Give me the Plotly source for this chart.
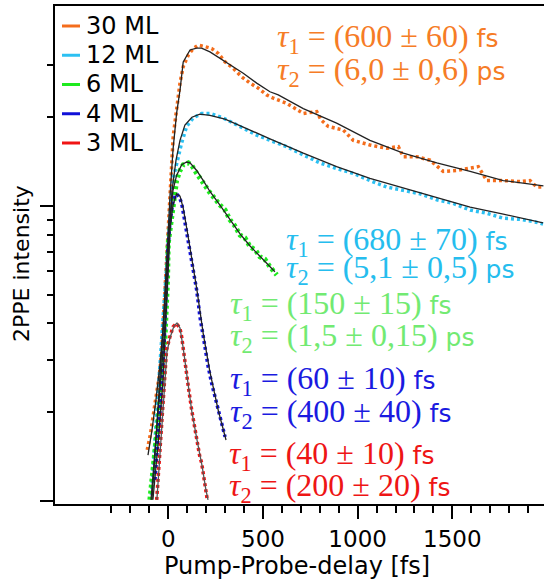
import plotly.graph_objects as go

# ---------------- data (delay in fs, 2PPE intensity, arbitrary log units) ----------------
series_names = ["30 ML", "12 ML", "6 ML", "4 ML", "3 ML"]

orange_t = [-111, -93, -70, -48, -35, -26, -17, -10, -4, 9, 18, 26, 44, 62, 79, 106, 132, 159, 194, 229,
            264, 300, 343, 388, 432, 475, 520, 555, 625, 669, 713, 784, 806, 845, 924, 977, 1023, 1065,
            1153, 1215, 1241, 1312, 1382, 1452, 1523, 1594, 1637, 1682, 1769, 1858, 1910, 1946, 1981]
orange_i = [0.149, 0.170, 0.214, 0.264, 0.317, 0.411, 0.519, 0.656, 0.797, 1.16, 1.40, 1.72, 2.12, 2.61,
            2.97, 3.25, 3.42, 3.51, 3.47, 3.42, 3.29, 3.08, 2.93, 2.74, 2.61, 2.51, 2.38, 2.32, 2.23, 2.15,
            2.06, 2.09, 1.96, 1.86, 1.81, 1.67, 1.64, 1.61, 1.57, 1.59, 1.47, 1.47, 1.43, 1.31, 1.32, 1.34,
            1.36, 1.22, 1.22, 1.21, 1.22, 1.16, 1.16]
orange_fit_t = [-107, -86, -65, -44, -28, -12, -2, 9, 25, 44, 62, 79, 115, 150, 176, 220, 273, 326, 396,
                467, 537, 581, 713, 889, 1065, 1241, 1418, 1594, 1769, 1981]
orange_fit_i = [0.143, 0.174, 0.220, 0.289, 0.380, 0.561, 0.767, 1.075, 1.55, 2.06, 2.47, 3.08, 3.38, 3.43,
                3.43, 3.33, 3.17, 3.01, 2.82, 2.61, 2.44, 2.38, 2.14, 1.91, 1.67, 1.51, 1.40, 1.31, 1.22, 1.17]

cyan_t = [-89, -81, -70, -60, -49, -39, -28, -17, -7, 4, 18, 30, 44, 71, 97, 132, 176, 220, 289, 379,
          467, 537, 625, 713, 801, 889, 977, 1065, 1153, 1241, 1330, 1418, 1505, 1594, 1682, 1769, 1858,
          1937, 1979]
cyan_i = [0.105, 0.127, 0.161, 0.203, 0.257, 0.325, 0.411, 0.519, 0.656, 0.830, 1.107, 1.27, 1.40, 1.64,
          1.86, 1.99, 2.06, 2.06, 1.99, 1.86, 1.74, 1.67, 1.59, 1.49, 1.40, 1.34, 1.29, 1.22, 1.16, 1.13,
          1.10, 1.05, 1.02, 0.969, 0.945, 0.909, 0.901, 0.883, 0.869]
cyan_fit_t = [-86, -65, -44, -23, -2, 20, 41, 62, 88, 125, 167, 220, 300, 379, 537, 713, 889, 1065, 1241,
              1418, 1594, 1769, 1858, 1979]
cyan_fit_i = [0.101, 0.161, 0.257, 0.444, 0.709, 1.13, 1.43, 1.67, 1.88, 2.00, 2.05, 2.03, 1.97, 1.87,
              1.69, 1.51, 1.36, 1.24, 1.15, 1.07, 0.992, 0.939, 0.911, 0.876]

green_t = [-97, -88, -79, -61, -53, -35, -26, -17, -9, -4, 0, 9, 18, 35, 44, 62, 79, 106, 125, 150, 183,
           220, 273, 300, 326, 350, 379, 405, 432, 460, 484, 510, 537, 573]
green_i = [0.101, 0.115, 0.127, 0.157, 0.188, 0.244, 0.278, 0.360, 0.434, 0.561, 0.749, 0.830, 0.920,
           1.13, 1.22, 1.32, 1.38, 1.40, 1.37, 1.29, 1.20, 1.11, 1.008, 0.97, 0.897, 0.86, 0.797, 0.78,
           0.728, 0.71, 0.673, 0.66, 0.622, 0.584]
green_fit_t = [-91, -70, -44, -23, -7, 9, 25, 44, 71, 97, 115, 150, 185, 220, 273, 326, 379, 432, 484, 563]
green_fit_i = [0.101, 0.149, 0.229, 0.351, 0.519, 0.897, 1.13, 1.27, 1.38, 1.41, 1.40, 1.32, 1.22, 1.12,
               1.008, 0.897, 0.804, 0.732, 0.677, 0.599]

blue_t = [-70, -54, -39, -23, -12, -2, 9, 26, 44, 58, 71, 79, 88, 100, 111, 124, 132, 150, 159, 167, 185,
          199, 211, 229, 247, 264, 282, 300]
blue_i = [0.118, 0.161, 0.220, 0.325, 0.480, 0.709, 0.883, 1.048, 1.10, 1.075, 1.021, 0.956, 0.874, 0.808,
          0.728, 0.656, 0.607, 0.519, 0.468, 0.422, 0.361, 0.317, 0.285, 0.251, 0.226, 0.203, 0.183, 0.165]
blue_fit_t = [-81, -54, -28, -7, 9, 25, 44, 62, 79, 99, 124, 150, 185, 220, 264, 305]
blue_fit_i = [0.101, 0.155, 0.257, 0.480, 0.830, 1.008, 1.10, 1.08, 0.984, 0.830, 0.667, 0.527, 0.368,
              0.274, 0.203, 0.161]

red_t = [-61, -53, -44, -35, -26, -17, -9, 9, 26, 44, 62, 71, 79, 88, 106, 124, 141, 150, 167, 176, 189,
         199, 206]
red_i = [0.101, 0.121, 0.141, 0.179, 0.232, 0.285, 0.325, 0.361, 0.390, 0.400, 0.385, 0.360, 0.325, 0.294,
         0.244, 0.203, 0.174, 0.161, 0.141, 0.135, 0.118, 0.106, 0.101]
red_fit_t = [-60, -44, -28, -17, -7, 9, 30, 46, 62, 79, 106, 125, 152, 178, 199, 210]
red_fit_i = [0.101, 0.143, 0.220, 0.278, 0.320, 0.357, 0.392, 0.401, 0.386, 0.330, 0.247, 0.200, 0.161,
             0.132, 0.109, 0.101]

tau1_labels = ["(600 ± 60)", "(680 ± 70)", "(150 ± 15)", "(60 ± 10)", "(40 ± 10)"]
tau1_units = ["fs", "fs", "fs", "fs", "fs"]
tau2_labels = ["(6,0 ± 0,6)", "(5,1 ± 0,5)", "(1,5 ± 0,15)", "(400 ± 40)", "(200 ± 20)"]
tau2_units = ["ps", "ps", "ps", "fs", "fs"]

x_major_ticks = [0, 500, 1000, 1500]
x_minor_ticks = [-300, -200, -100, 100, 200, 300, 400, 600, 700, 800, 900, 1100, 1200, 1300, 1400,
                 1600, 1700, 1800, 1900]
y_major_ticks = [0.1, 1]
y_minor_ticks = [0.2, 0.3, 0.4, 0.5, 0.6, 0.7, 0.8, 0.9, 2, 3]

x_title = "Pump-Probe-delay [fs]"
y_title = "2PPE intensity"

# ---------------- styling ----------------
dot_colors = ["#f46d1c", "#2cc0f2", "#1eea1e", "#1010d8", "#f01414"]
text_colors = ["#f67c26", "#25bdee", "#72ea72", "#1a1ae0", "#ee1515"]
fit_color = "#222222"

W, H = 544, 583
L_M, R_M, T_M, B_M = 55, 0, 6, 79
PW, PH = W - L_M - R_M, H - T_M - B_M


def px(x):
    return (x - L_M) / PW


def py(y):
    return (H - B_M - y) / PH


fig = go.Figure()

data = [
    (orange_t, orange_i, orange_fit_t, orange_fit_i, 3.5),
    (cyan_t, cyan_i, cyan_fit_t, cyan_fit_i, 3.5),
    (green_t, green_i, green_fit_t, green_fit_i, 5),
    (blue_t, blue_i, blue_fit_t, blue_fit_i, 3.5),
    (red_t, red_i, red_fit_t, red_fit_i, 3.5),
]

for k, (t, i, ft, fi, w) in enumerate(data):
    fig.add_trace(go.Scatter(x=t, y=i, mode="lines", name=series_names[k], showlegend=False,
                             line=dict(color=dot_colors[k], width=w, dash="3px,3px")))
for k, (t, i, ft, fi, w) in enumerate(data):
    fig.add_trace(go.Scatter(x=ft, y=fi, mode="lines", name=series_names[k] + " fit", showlegend=False,
                             line=dict(color=fit_color if k != 4 else "#555555", width=1.3)))

shapes = []
annotations = []

# manual legend
leg_y0, leg_dy = 26, 29.25
for k, name in enumerate(series_names):
    yc = leg_y0 + k * leg_dy
    shapes.append(dict(type="line", xref="paper", yref="paper", x0=px(62), x1=px(80), y0=py(yc), y1=py(yc),
                       line=dict(color=dot_colors[k], width=3)))
    annotations.append(dict(xref="paper", yref="paper", x=px(84), y=py(yc), xanchor="left", yanchor="middle",
                            text=name, showarrow=False,
                            font=dict(family="DejaVu Sans", size=24, color="black")))

# time-constant annotations
tau_pos = [(275, 38, 72), (284, 241, 269), (228, 305, 337), (228, 380, 413), (227, 455, 487)]
MATH = "Liberation Serif"
for k, (xl, y1, y2) in enumerate(tau_pos):
    for n, (lab, unit, yy) in enumerate([(tau1_labels[k], tau1_units[k], y1), (tau2_labels[k], tau2_units[k], y2)]):
        txt = (f"<i>τ</i><sub>{n + 1}</sub> = {lab} "
               f"<span style=\"font-family:DejaVu Sans;font-size:25px\">{unit}</span>")
        annotations.append(dict(xref="paper", yref="paper", x=px(xl), y=py(yy), xanchor="left",
                                yanchor="middle", text=txt, showarrow=False,
                                font=dict(family=MATH, size=32, color=text_colors[k])))

# axis titles
annotations.append(dict(xref="paper", yref="paper", x=px(297), y=py(566), xanchor="center", yanchor="middle",
                        text=x_title, showarrow=False,
                        font=dict(family="DejaVu Sans", size=24, color="black")))
annotations.append(dict(xref="paper", yref="paper", x=px(21), y=py(264), xanchor="center", yanchor="middle",
                        text=y_title, showarrow=False, textangle=-90,
                        font=dict(family="DejaVu Sans", size=22, color="black")))

fig.update_layout(
    width=W, height=H,
    margin=dict(l=L_M, r=R_M, t=T_M, b=B_M, pad=0, autoexpand=False),
    paper_bgcolor="white", plot_bgcolor="white",
    shapes=shapes, annotations=annotations,
    showlegend=False,
    font=dict(family="DejaVu Sans", color="black"),
)

fig.update_xaxes(
    range=[-598, 1984], showgrid=False, zeroline=False, automargin=False,
    showline=True, linecolor="black", linewidth=2, mirror=True,
    tickmode="array", tickvals=x_major_ticks, ticktext=[str(v) for v in x_major_ticks],
    ticks="outside", ticklen=13, tickwidth=2, tickcolor="black", ticklabelstandoff=0,
    tickfont=dict(family="DejaVu Sans", size=23, color="black"),
    minor=dict(tickmode="array", tickvals=x_minor_ticks, ticks="outside", ticklen=7, tickwidth=2,
               tickcolor="black", showgrid=False),
)

fig.update_yaxes(
    type="log", range=[-1.01, 0.678], showgrid=False, zeroline=False, automargin=False,
    showline=True, linecolor="black", linewidth=2,
    tickmode="array", tickvals=y_major_ticks, showticklabels=False,
    ticks="outside", ticklen=13, tickwidth=2, tickcolor="black",
    minor=dict(tickmode="array", tickvals=y_minor_ticks, ticks="outside", ticklen=6, tickwidth=2,
               tickcolor="black", showgrid=False),
)

fig.write_html("out.html", config={"displayModeBar": False},
               post_script="document.body.style.margin='0';document.body.style.overflow='hidden';")
